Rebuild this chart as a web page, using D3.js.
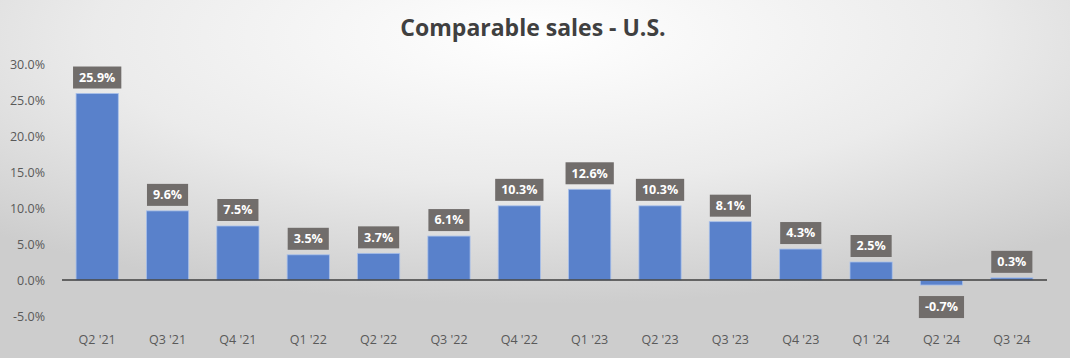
<!DOCTYPE html>
<html><head><meta charset="utf-8">
<script src="https://cdn.jsdelivr.net/npm/d3@7"></script>
<style>body{margin:0;overflow:hidden}svg{display:block}</style>
</head><body>
<svg id="c" width="1070" height="358"></svg>
<script>
const categories = ["Q2 '21","Q3 '21","Q4 '21","Q1 '22","Q2 '22","Q3 '22","Q4 '22","Q1 '23","Q2 '23","Q3 '23","Q4 '23","Q1 '24","Q2 '24","Q3 '24"];
const values = [25.9, 9.6, 7.5, 3.5, 3.7, 6.1, 10.3, 12.6, 10.3, 8.1, 4.3, 2.5, -0.7, 0.3];
const yTicks = [-5, 0, 5, 10, 15, 20, 25, 30];
const title = "Comparable sales - U.S.";

const W = 1070, H = 358;
const svg = d3.select("#c");
const defs = svg.append("defs");
const rg = defs.append("radialGradient").attr("id","bg").attr("cx","50%").attr("cy","10%").attr("r","75%");
rg.append("stop").attr("offset","0%").attr("stop-color","#ffffff");
rg.append("stop").attr("offset","55%").attr("stop-color","#ebebeb");
rg.append("stop").attr("offset","100%").attr("stop-color","#cdcdcd");
svg.append("rect").attr("width",W).attr("height",H).attr("fill","url(#bg)");

const x = d3.scaleBand().domain(categories).range([62,1047]).paddingInner(0.4).paddingOuter(0.2);
const y = d3.scaleLinear().domain([-5,30]).range([316,64]);

svg.append("text").attr("x",533).attr("y",36).attr("text-anchor","middle")
  .attr("font-family","'Open Sans', sans-serif").attr("font-weight","bold").attr("font-size",23)
  .attr("fill","#404040").text(title);

const yAxis = d3.axisLeft(y).tickValues(yTicks).tickFormat(d => d.toFixed(1) + "%").tickSize(0);
const ga = svg.append("g").attr("transform","translate(48,0)").call(yAxis);
ga.select(".domain").remove();
ga.selectAll("text").attr("font-family","'Open Sans', sans-serif").attr("font-size",12.5).attr("fill","#595959");

svg.append("g").selectAll("rect").data(values).join("rect")
  .attr("x",(d,i)=>x(categories[i])).attr("width",x.bandwidth())
  .attr("y",d=>y(Math.max(0,d))).attr("height",d=>Math.abs(y(d)-y(0)))
  .attr("fill","#5981CB").attr("stroke","#a9c0ea").attr("stroke-width",0.8);

const xAxis = d3.axisBottom(x).tickSize(0);
const gx = svg.append("g").attr("transform","translate(0,280)").call(xAxis);
gx.select(".domain").remove();
gx.selectAll("text").attr("y",y(-5)-280+19).attr("font-family","'Open Sans', sans-serif").attr("font-size",12.5).attr("fill","#595959");

svg.append("line").attr("x1",62).attr("x2",1047).attr("y1",y(0)).attr("y2",y(0))
  .attr("stroke","#3f3f3f").attr("stroke-width",1.5);

const lg = svg.append("g").selectAll("g").data(values).join("g")
  .attr("transform",(d,i)=>{
    const cx = x(categories[i]) + x.bandwidth()/2;
    const cy = d >= 0 ? y(d) - 16 : y(d) + 22;
    return `translate(${cx},${cy})`;
  });
lg.append("rect").attr("fill","#716d6b");
lg.append("text").attr("text-anchor","middle").attr("dy","0.35em")
  .attr("font-family","'Open Sans', sans-serif").attr("font-weight","bold").attr("font-size",12.5)
  .attr("fill","#ffffff").text(d=>d.toFixed(1)+"%");
lg.each(function(){
  const g = d3.select(this);
  const bb = g.select("text").node().getBBox();
  g.select("rect").attr("x",bb.x-6).attr("y",-11).attr("width",bb.width+12).attr("height",22);
});
</script>
</body></html>
